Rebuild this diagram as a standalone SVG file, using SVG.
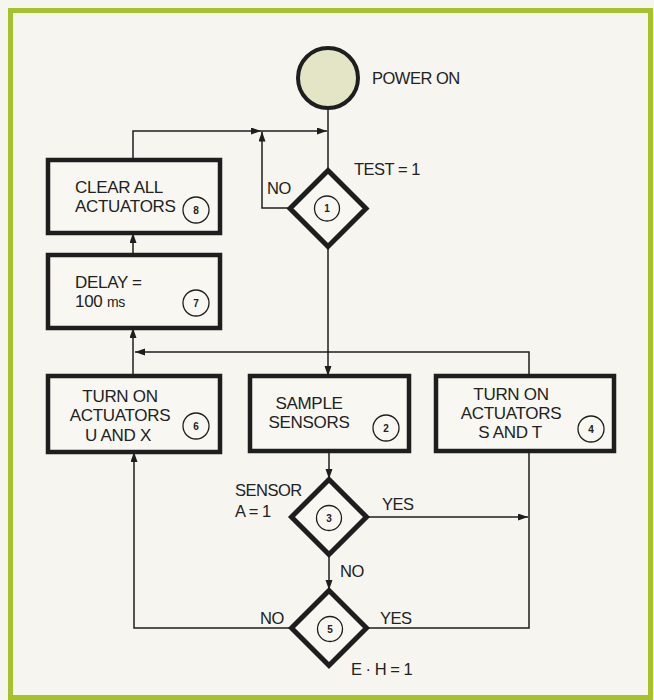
<svg xmlns="http://www.w3.org/2000/svg" width="654" height="700" viewBox="0 0 654 700">
<defs>
<style>
.bg{fill:#f6f5ef}
.frame{fill:none;stroke:#a6c12e;stroke-width:5}
.box{fill:#f8f7f2;stroke:#1e1e1e;stroke-width:4.5}
.dia{fill:#f8f7f2;stroke:#1e1e1e;stroke-width:5;stroke-linejoin:miter}
.num{fill:none;stroke:#1e1e1e;stroke-width:1.3}
.t{font-family:"Liberation Sans",Arial,sans-serif;font-size:17px;letter-spacing:-0.3px;fill:#222}
.lbl{font-family:"Liberation Sans",Arial,sans-serif;font-size:16.5px;letter-spacing:-0.5px;fill:#222}
.n{font-family:"Liberation Sans",Arial,sans-serif;font-size:10px;font-weight:bold;fill:#222;text-anchor:middle}
.c{text-anchor:middle}
.ln{fill:none;stroke:#1e1e1e;stroke-width:1.5}
</style>
<marker id="ah" markerUnits="userSpaceOnUse" markerWidth="10" markerHeight="8" refX="10" refY="3.5" orient="auto">
<path d="M0,0 L10,3.5 L0,7 z" fill="#1e1e1e"/>
</marker>
</defs>
<rect class="bg" x="0" y="0" width="654" height="700"/>
<rect class="frame" x="10.5" y="10.5" width="640" height="687"/>

<g id="connectors">
<path class="ln" d="M328,110 V170"/>
<path class="ln" d="M133,160 V131 H261" marker-end="url(#ah)"/>
<path class="ln" d="M261,131 H327" marker-end="url(#ah)"/>
<path class="ln" d="M290,208 H262 V131.5" marker-end="url(#ah)"/>
<path class="ln" d="M328,246 V376" marker-end="url(#ah)"/>
<path class="ln" d="M329,451 V479" marker-end="url(#ah)"/>
<path class="ln" d="M367,517 H528" marker-end="url(#ah)"/>
<path class="ln" d="M329,554 V590" marker-end="url(#ah)"/>
<path class="ln" d="M367,628 H529 V451"/>
<path class="ln" d="M529,376 V352 H135" marker-end="url(#ah)"/>
<path class="ln" d="M291,628 H134 V452" marker-end="url(#ah)"/>
<path class="ln" d="M133,376 V328" marker-end="url(#ah)"/>
<path class="ln" d="M133,255 V233" marker-end="url(#ah)"/>
</g>

<g id="power-on">
<circle cx="328" cy="78" r="30" fill="#e4e5c7" stroke="#1e1e1e" stroke-width="4"/>
<text class="lbl" x="372" y="83.5">POWER ON</text>
</g>

<g id="decision-1">
<polygon class="dia" points="328,170.5 366,208.5 328,246.5 290,208.5"/>
<circle class="num" cx="327" cy="208.5" r="12.5"/>
<text class="n" x="327" y="212">1</text>
<text class="lbl" x="354" y="175">TEST = 1</text>
<text class="lbl" x="267" y="194">NO</text>
</g>

<g id="box-8">
<rect class="box" x="48" y="160" width="172" height="73"/>
<text class="t" x="75" y="193">CLEAR ALL</text>
<text class="t" x="75" y="212">ACTUATORS</text>
<circle class="num" cx="196" cy="210" r="13"/>
<text class="n" x="196" y="213.5">8</text>
</g>

<g id="box-7">
<rect class="box" x="48" y="255" width="172" height="73"/>
<text class="t" x="75" y="288">DELAY =</text>
<text class="t" x="75" y="307">100 <tspan font-size="14">ms</tspan></text>
<circle class="num" cx="196" cy="303" r="13"/>
<text class="n" x="196" y="306.5">7</text>
</g>

<g id="box-6">
<rect class="box" x="48" y="376" width="172" height="76"/>
<text class="t c" x="120" y="402">TURN ON</text>
<text class="t c" x="120" y="421">ACTUATORS</text>
<text class="t c" x="118" y="440.5">U AND X</text>
<circle class="num" cx="196" cy="426" r="13"/>
<text class="n" x="196" y="429.5">6</text>
</g>

<g id="box-2">
<rect class="box" x="250" y="376" width="159" height="75"/>
<text class="t c" x="309" y="409">SAMPLE</text>
<text class="t c" x="309" y="428">SENSORS</text>
<circle class="num" cx="386" cy="428" r="13"/>
<text class="n" x="386" y="431.5">2</text>
</g>

<g id="box-4">
<rect class="box" x="436" y="376" width="178" height="75"/>
<text class="t c" x="511" y="400">TURN ON</text>
<text class="t c" x="511" y="419">ACTUATORS</text>
<text class="t c" x="510" y="438">S AND T</text>
<circle class="num" cx="591" cy="429" r="13"/>
<text class="n" x="591" y="432.5">4</text>
</g>

<g id="decision-3">
<polygon class="dia" points="329,479.5 366.5,517 329,554.5 291.5,517"/>
<circle class="num" cx="329" cy="518" r="12.5"/>
<text class="n" x="329" y="521.5">3</text>
<text class="lbl" x="235" y="496">SENSOR</text>
<text class="lbl" x="235" y="517">A = 1</text>
<text class="lbl" x="382" y="510">YES</text>
<text class="lbl" x="340" y="577">NO</text>
</g>

<g id="decision-5">
<polygon class="dia" points="329,590.5 366.5,628 329,665.5 291.5,628"/>
<circle class="num" cx="330" cy="629" r="12.5"/>
<text class="n" x="330" y="632.5">5</text>
<text class="lbl" x="260" y="624">NO</text>
<text class="lbl" x="380" y="624">YES</text>
<text class="lbl" x="351" y="675">E · H = 1</text>
</g>
</svg>
